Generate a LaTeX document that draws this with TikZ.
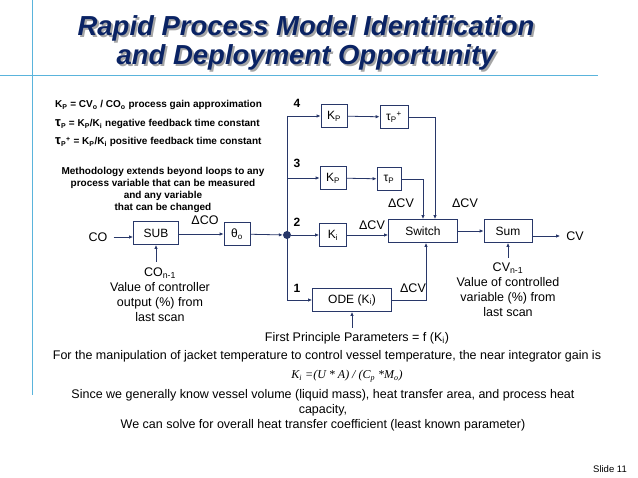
\documentclass[tikz,border=0pt]{standalone}
\usepackage{fontspec}
\setmainfont{Liberation Sans}
\newfontfamily\eqserif{Liberation Serif}
\usetikzlibrary{arrows.meta}
\definecolor{lncol}{RGB}{40,55,105}
\definecolor{ttl}{RGB}{10,35,100}
\definecolor{rule}{RGB}{90,180,220}
\begin{document}
\begin{tikzpicture}[x=1pt,y=-1pt,
  blk/.style={draw=lncol,thick,fill=white,minimum height=23pt,inner sep=1pt,font=\fontsize{12}{14}\selectfont},
  arr/.style={draw=lncol,thick,-{Latex[length=4pt,width=3.5pt]}},
  wire/.style={draw=lncol,thick},
  lbl/.style={font=\fontsize{12.5}{15}\selectfont,inner sep=0pt},
  num/.style={font=\bfseries\fontsize{12}{14}\selectfont,inner sep=0pt},
  small/.style={font=\bfseries\fontsize{10}{12}\selectfont,inner sep=0pt},
  ttlst/.style={font=\bfseries\itshape\fontsize{27.5}{30}\selectfont,inner sep=0pt}]
\useasboundingbox (0,0) rectangle (638,478);
\fill[white] (0,0) rectangle (638,478);
% rules
\draw[rule] (0,75) -- (598,75);
\draw[rule] (32,0) -- (32,395);
% title
\node[ttlst,text=gray!70] at (308,30) {Rapid Process Model Identification};
\node[ttlst,text=gray!70] at (308,59) {and Deployment Opportunity};
\node[ttlst,text=ttl] (t1) at (306,28) {Rapid Process Model Identification};
\node[ttlst,text=ttl] (t2) at (306,57) {and Deployment Opportunity};
% left notes
\node[small,anchor=west] (n1) at (55,105) {K\textsubscript{P} = CV\textsubscript{o} / CO\textsubscript{o} process gain approximation};
\node[small,anchor=west] (n2) at (55,124) {{\fontsize{13}{13}\selectfont τ}\textsubscript{P} = K\textsubscript{P}/K\textsubscript{i} negative feedback time constant};
\node[small,anchor=west] (n3) at (55,142) {{\fontsize{13}{13}\selectfont τ}\textsubscript{P}\textsuperscript{+} = K\textsubscript{P}/K\textsubscript{i} positive feedback time constant};
\node[small,align=center] (meth) at (163,190) {Methodology extends beyond loops to any\\process variable that can be measured\\and any variable\\that can be changed};
% blocks
\node[lbl] (co) at (98,237) {CO};
\node[blk,minimum width=45pt] (sub) at (156,233) {SUB};
\node[blk,minimum width=26pt] (th) at (237,234) {θ\textsubscript{o}};
\node[circle,fill=lncol,inner sep=0pt,minimum size=8pt] (j) at (287,235) {};
\node[blk,minimum width=27pt] (ki) at (333,235) {K\textsubscript{i}};
\node[blk,minimum width=69pt] (sw) at (423,231) {Switch};
\node[blk,minimum width=48pt] (sum) at (508,231) {Sum};
\node[lbl] (cv) at (575,236) {CV};
\node[blk,minimum width=26pt] (kp4) at (334,116) {K\textsubscript{P}};
\node[blk,minimum width=28pt] (tp4) at (394,117) {τ\textsubscript{P}\textsuperscript{+}};
\node[blk,minimum width=26pt] (kp3) at (333,178) {K\textsubscript{P}};
\node[blk,minimum width=24pt] (tp3) at (389,179) {τ\textsubscript{P}};
\node[blk,minimum width=79pt] (ode) at (352,300) {ODE (K\textsubscript{i})};
\coordinate (top) at (287,116);
\coordinate (b3) at (287,178);
\coordinate (bot) at (287,300);
\coordinate (cos) at (156,262);
\coordinate (cvs) at (508,258);
\coordinate (fps) at (352,328);
% connectors
\draw[arr,shorten <=6pt] (co.east) -- (co.east-|sub.west);
\draw[arr] (sub.east|-th) -- (th);
\draw[arr] (th) -- (j);
\draw[wire] (top) -- (bot);
\draw[arr] (top) -- (kp4);
\draw[arr] (b3) -- (kp3);
\draw[arr] (j) -- (ki);
\draw[arr] (bot) -- (ode);
\draw[arr] (kp4) -- (tp4);
\draw[arr] (kp3) -- (tp3);
\draw[arr] (tp4.east) -| ([xshift=12pt]sw.north);
\draw[arr] (tp3.east) -| (sw.north);
\draw[arr] (ki) -- (ki-|sw.west);
\draw[arr] (ode.east) -| ([xshift=3pt]sw.south);
\draw[arr] (sw) -- (sum);
\draw[arr,shorten >=6pt] (sum.east|-cv) -- (cv.west);
\draw[arr] (cos) -- (sub.south);
\draw[arr] (cvs) -- (sum.south);
\draw[arr] (fps) -- (ode.south);
% labels
\node[num] (l4) at (297,103) {4};
\node[num] (l3) at (297,163) {3};
\node[num] (l2) at (297,222) {2};
\node[num] (l1) at (297,288) {1};
\node[lbl] (dco) at (205,220) {ΔCO};
\node[lbl] (dcv1) at (372,225) {ΔCV};
\node[lbl] (dcv2) at (401,203) {ΔCV};
\node[lbl] (dcv3) at (465,203) {ΔCV};
\node[lbl] (dcv4) at (413,288) {ΔCV};
% lower texts
\node[lbl,align=center,anchor=north] (con) at (160,268) {CO\textsubscript{n-1}\\Value of controller\\output (\%) from\\last scan};
\node[lbl,align=center,anchor=north] (cvn) at (508,263) {CV\textsubscript{n-1}\\Value of controlled\\variable (\%) from\\last scan};
\node[lbl] (fpp) at (357,338) {First Principle Parameters = f (K\textsubscript{i})};
\node[lbl] (fm) at (327,356) {For the manipulation of jacket temperature to control vessel temperature, the near integrator gain is};
\node[lbl,font=\eqserif\itshape\fontsize{12}{14}\selectfont] (eq) at (347,376) {K\textsubscript{\itshape i} =(U * A) / (C\textsubscript{\itshape p} *M\textsubscript{\itshape o})};
\node[lbl,align=center] (since) at (323,410) {Since we generally know vessel volume (liquid mass), heat transfer area, and process heat\\capacity,\\We can solve for overall heat transfer coefficient (least known parameter)};
\node[lbl,font=\fontsize{9.5}{11}\selectfont] (slide) at (610,469) {Slide 11};
\end{tikzpicture}
\end{document}
